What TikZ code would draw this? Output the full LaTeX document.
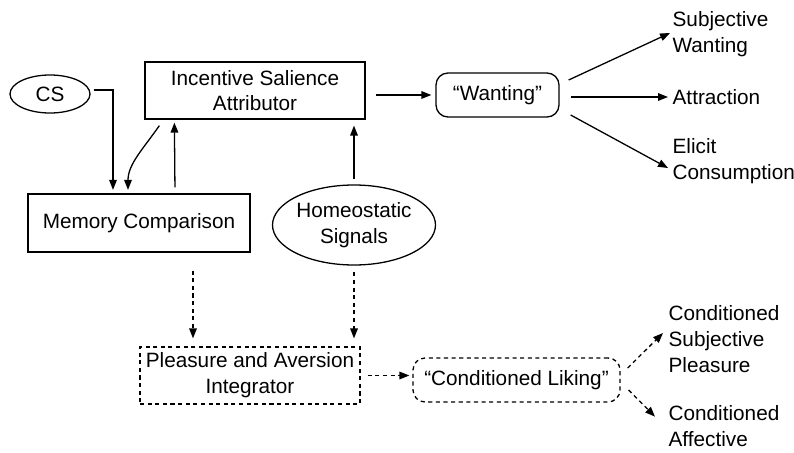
\documentclass[tikz,border=0pt]{standalone}
\usepackage{fontspec}
\setmainfont{Liberation Sans}
\usetikzlibrary{arrows.meta,shapes.geometric}
\begin{document}
\begin{tikzpicture}[x=0.03cm,y=-0.03cm,
  line width=1.1pt,
  >={Triangle[length=8.5pt,width=6.5pt]},
  every node/.style={font=\fontsize{17.7}{22}\selectfont, inner sep=0pt},
  box/.style={draw, rectangle, align=center},
  oval/.style={draw, ellipse, align=center},
  rbox/.style={draw, rectangle, rounded corners=0.36cm, align=center},
  dline/.style={dash pattern=on 3.5pt off 3pt},
  outtext/.style={anchor=west, align=left}]
\useasboundingbox (0,0) rectangle (794,452);

% upper ("wanting") pathway
\node[oval, minimum width=2.4cm, minimum height=1.14cm] (cs) at (50,94) {CS};
\node[box, minimum width=6.6cm, minimum height=1.71cm] (isa) at (255,90.5) {Incentive Salience\\Attributor};
\node[box, minimum width=6.66cm, minimum height=1.74cm] (mem) at (139,223) {Memory Comparison};
\node[oval, minimum width=4.35cm, minimum height=2.4cm] (hs) at (354,225) {Homeostatic\\Signals};
\node[rbox, minimum width=3.69cm, minimum height=1.32cm] (want) at (497.5,95) {“Wanting”};

\node[outtext] (sw) at (672,34) {Subjective\\Wanting};
\node[outtext] (att) at (672,97) {Attraction};
\node[outtext] (ec) at (672,161) {Elicit\\Consumption};

% lower ("liking") pathway
\node[box, dline, minimum width=6.6cm, minimum height=1.71cm] (pai) at (250,375.5) {Pleasure and Aversion\\Integrator};
\node[rbox, dline, minimum width=6.21cm, minimum height=1.32cm] (cl) at (516.5,380) {“Conditioned Liking”};

\node[outtext] (csp) at (668,339) {Conditioned\\Subjective\\Pleasure};
\node[outtext] (ca) at (668,426) {Conditioned\\Affective};

% solid connectors
\draw[->, shorten >=3pt] ([xshift=0.09cm,yshift=0.12cm]cs.east) -| ([xshift=-0.78cm]mem.north);
\draw[->, shorten >=3pt] ([xshift=0.45cm,yshift=-0.18cm]isa.south west) to[out=-125,in=90] ([xshift=-0.33cm]mem.north);
\draw[->, shorten <=0.18cm, shorten >=0.09cm] ([xshift=1.08cm]mem.north) -- ([xshift=0.9cm]isa.south west);
\draw[->, shorten <=0.15cm, shorten >=0.18cm] (hs.north) -- (hs.north |- isa.south);
\draw[->, shorten <=0.3cm, shorten >=0.12cm] (want.west -| isa.east) -- (want.west);

\draw[->] ([xshift=0.27cm,yshift=0.45cm]want.east) -- ([xshift=-0.06cm,yshift=0.03cm]sw.west);
\draw[->] ([xshift=0.33cm,yshift=-0.06cm]want.east) -- ([xshift=-0.12cm]att.west);
\draw[->] ([xshift=0.33cm,yshift=-0.6cm]want.east) -- ([xshift=-0.12cm,yshift=-0.21cm]ec.west);

% dashed connectors
\draw[dline, ->, shorten <=0.54cm, shorten >=0.24cm] ([xshift=1.62cm]mem.south) -- ([xshift=1.62cm]mem.south |- pai.north);
\draw[dline, ->, shorten <=0.2cm, shorten >=0.24cm] (hs.south) -- (hs.south |- pai.north);
\draw[dline, ->, shorten <=0.21cm, shorten >=0.09cm] (pai.east) -- (pai.east -| cl.west);
\draw[dline, ->] ([xshift=0.21cm,yshift=0.36cm]cl.east) -- ([xshift=-0.15cm,yshift=0.18cm]csp.west);
\draw[dline, ->] ([xshift=0.24cm,yshift=-0.3cm]cl.east) -- ([xshift=-0.39cm,yshift=0.28cm]ca.west);
\end{tikzpicture}
\end{document}
